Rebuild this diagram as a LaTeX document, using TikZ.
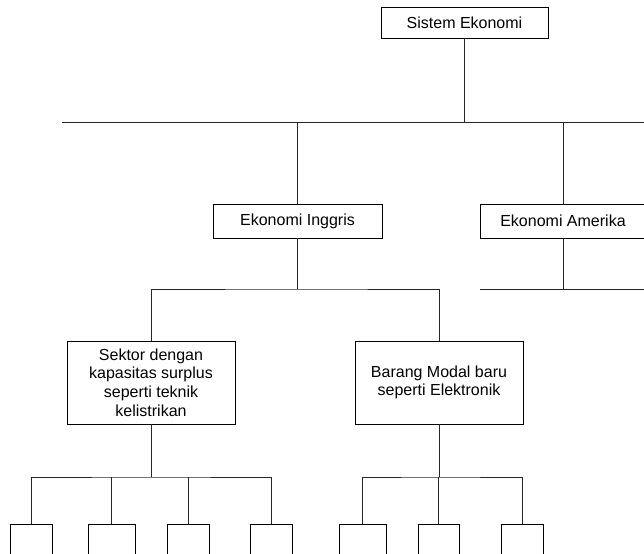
\documentclass[tikz,border=0pt]{standalone}
\usepackage{fontspec}
\setmainfont{Liberation Sans}
\begin{document}
\begin{tikzpicture}[x=0.75pt,y=-0.75pt,
  box/.style={draw=black,line width=0.6pt,rectangle,inner sep=0pt,align=center,
    font=\fontsize{12}{14}\selectfont},
  leaf/.style={draw=black,line width=0.6pt,rectangle,inner sep=0pt,minimum height=45pt},
  conn/.style={draw=black!85,line width=0.6pt}]
\useasboundingbox (0,0) rectangle (644,554);
\clip (0,0) rectangle (644,554);
% main boxes
\node[box,minimum width=125.25pt,minimum height=23.25pt] (sis) at (464.5,22.5) {Sistem Ekonomi};
\node[box,minimum width=126.75pt,minimum height=25.5pt] (ing) at (297.5,221) {Ekonomi Inggris};
\node[box,minimum width=124.5pt,minimum height=25.5pt] (ame) at (563,221) {Ekonomi Amerika};
\node[box,minimum width=126pt,minimum height=62.25pt] (sek) at (151,382.5) {Sektor dengan\\kapasitas surplus\\seperti teknik\\kelistrikan};
\node[box,minimum width=126pt,minimum height=62.25pt] (bar) at (439,382.5) {Barang Modal baru\\seperti Elektronik};
% leaves
\node[leaf,minimum width=31.5pt] (l1) at (31,554) {};
\node[leaf,minimum width=35.25pt] (l2) at (111.5,554) {};
\node[leaf,minimum width=31.5pt] (l3) at (188,554) {};
\node[leaf,minimum width=31.5pt] (l4) at (271,554) {};
\node[leaf,minimum width=35.25pt] (l5) at (362.5,554) {};
\node[leaf,minimum width=30.75pt] (l6) at (438.5,554) {};
\node[leaf,minimum width=31.5pt] (l7) at (522,554) {};
% junction coordinates
\coordinate (hL) at (62,122);
\coordinate (hR) at (650,122);
\coordinate (jS) at (464.5,122);
\coordinate (jI) at (297.5,122);
\coordinate (jA) at (563,122);
\coordinate (aJ) at (563,289);
\coordinate (aL) at (480,289);
\coordinate (aR) at (650,289);
\coordinate (iJ) at (297.5,289);
\coordinate (sJ) at (151,477);
\coordinate (bJ) at (439,477);
% connectors
\draw[conn] (sis.south) -- (jS);
\draw[conn] (hL) -- (hR);
\draw[conn] (jI) -- (ing.north);
\draw[conn] (jA) -- (ame.north);
\draw[conn] (ame.south) -- (aJ);
\draw[conn] (aL) -- (aR);
\draw[conn] (ing.south) -- (iJ);
\draw[conn] (sek.north) |- (iJ) -| (bar.north);
\draw[conn] (sek.south) -- (sJ);
\draw[conn] (l1.north) |- (sJ) -| (l4.north);
\draw[conn] (l2.north) -- (l2.north |- sJ);
\draw[conn] (l3.north) -- (l3.north |- sJ);
\draw[conn] (bar.south) -- (bJ);
\draw[conn] (l5.north) |- (bJ) -| (l7.north);
\draw[conn] (l6.north) -- (l6.north |- bJ);
\end{tikzpicture}
\end{document}
